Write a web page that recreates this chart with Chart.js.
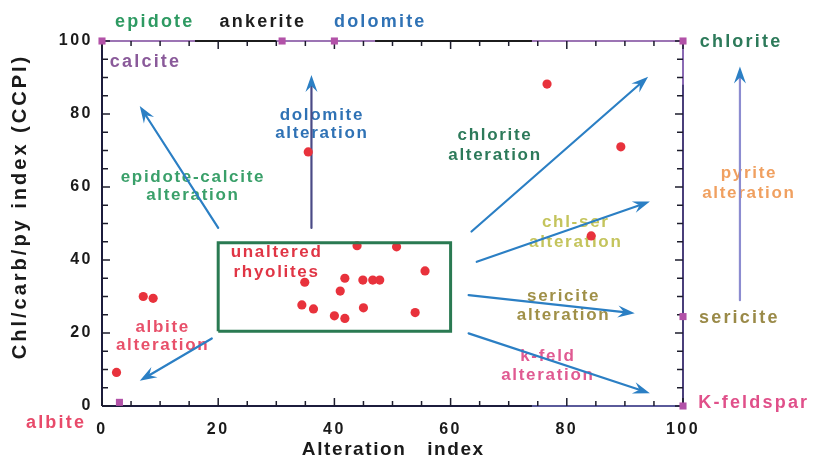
<!DOCTYPE html>
<html><head><meta charset="utf-8">
<script src="https://cdn.jsdelivr.net/npm/chart.js@4.4.1/dist/chart.umd.min.js"></script>
<style>html,body{margin:0;padding:0;background:#fff;}#wrap{width:815px;height:467px;}</style>
</head><body><div id="wrap"><canvas id="c" width="815" height="467"></canvas></div>
<script>
// ---- data ----
const sampleX = [76.6, 89.3, 35.5, 84.2, 43.9, 50.7, 55.6, 34.9, 41.8, 41.0, 44.9, 46.6, 47.8, 34.4, 36.4, 40.0, 41.8, 45.0, 53.9, 7.1, 8.8, 2.5];
const sampleY = [88.2, 71.0, 69.6, 46.6, 43.9, 43.6, 37.0, 33.9, 35.0, 31.5, 34.5, 34.5, 34.5, 27.7, 26.6, 24.7, 24.0, 26.9, 25.6, 30.0, 29.5, 9.2];
const endmemberX = [0, 31, 40, 100, 100, 100, 3];
const endmemberY = [100, 100, 100, 100, 24.5, 0, 1];
const boxX = [20, 60, 60, 20, 20];
const boxY = [20.5, 20.5, 44.7, 44.7, 20.5];
// arrows: start -> end (data units)
const arrowX0 = [20.0, 36.05, 63.6, 64.5, 63.1, 63.1, 18.9, 109.8];
const arrowY0 = [48.8, 48.8, 47.8, 39.5, 30.4, 19.9, 18.5, 29.0];
const arrowX1 = [6.5, 36.05, 94.0, 94.3, 91.7, 94.3, 6.5, 109.8];
const arrowY1 = [82.2, 90.7, 90.2, 56.0, 25.4, 3.5, 6.9, 93.0];
const arrowShaft = ['#2b7fc4', '#4a4a86', '#2b7fc4', '#2b7fc4', '#2b7fc4', '#2b7fc4', '#2b7fc4', '#8c8cd0'];
// labels (center x, line y's in data units)
const labelText = [['epidote'], ['ankerite'], ['dolomite'], ['calcite'], ['chlorite'], ['sericite'], ['K-feldspar'], ['albite'],
  ['dolomite', 'alteration'], ['epidote-calcite', 'alteration'], ['chlorite', 'alteration'], ['pyrite', 'alteration'],
  ['chl-ser', 'alteration'], ['unaltered', 'rhyolites'], ['sericite', 'alteration'], ['k-feld', 'alteration'], ['albite', 'alteration']];
const labelX = [8.9, 27.5, 47.7, 7.3, 109.8, 109.5, 112.0, -8.1, 37.7, 15.5, 67.5, 111.2, 81.4, 29.9, 79.3, 76.6, 10.3];
const labelY = [[105.2], [105.2], [105.2], [94.3], [99.7], [24.1], [0.8], [-4.7], [79.7, 74.8], [62.7, 57.8], [74.2, 68.8], [63.8, 58.4],
  [50.4, 44.9], [42.2, 36.7], [30.1, 24.9], [13.7, 8.5], [21.6, 16.7]];
const labelColor = ['#2e9a62', '#1e1e1e', '#2f72b5', '#8a5a9a', '#2d7a5a', '#9a8a48', '#e0508a', '#e84a6a',
  '#2f72b5', '#3aa06a', '#2d7a5a', '#f0a060', '#c4c45c', '#e03545', '#a09048', '#e05a92', '#e8506a'];
const labelSize = [18, 18, 18, 18, 18, 18, 18, 18, 17, 17, 17, 17, 17, 17, 17, 17, 17];
const xTickStep = 20, yTickStep = 20, minorStep = 5;

const FONT = "'Liberation Sans', Arial, Helvetica, sans-serif";
function drawText(ctx, s, x, y, size, color, spacing, rot) {
  ctx.save();
  ctx.font = 'bold ' + size + 'px ' + FONT;
  ctx.fillStyle = color;
  ctx.textAlign = 'left';
  ctx.textBaseline = 'middle';
  try { ctx.letterSpacing = spacing + 'px'; } catch (e) {}
  const w = ctx.measureText(s).width - spacing;
  ctx.translate(x, y);
  if (rot) ctx.rotate(rot);
  ctx.fillText(s, -w / 2, 0);
  ctx.restore();
}
function drawArrow(ctx, x0, y0, x1, y1, shaft, head) {
  const a = Math.atan2(y1 - y0, x1 - x0), c = Math.cos(a), s = Math.sin(a);
  const L = 17, W = 6, N = 11;
  ctx.save();
  ctx.strokeStyle = shaft; ctx.lineWidth = 2.2; ctx.lineCap = 'round';
  ctx.beginPath(); ctx.moveTo(x0, y0); ctx.lineTo(x1 - c * N, y1 - s * N); ctx.stroke();
  ctx.fillStyle = head;
  const bx = x1 - c * L, by = y1 - s * L, nx = -s, ny = c;
  ctx.beginPath();
  ctx.moveTo(x1, y1);
  ctx.lineTo(bx + nx * W, by + ny * W);
  ctx.lineTo(x1 - c * N, y1 - s * N);
  ctx.lineTo(bx - nx * W, by - ny * W);
  ctx.closePath(); ctx.fill();
  ctx.restore();
}

const decor = {
  id: 'decor',
  beforeDraw(chart) { try { chart.ctx.letterSpacing = '2.5px'; } catch (e) {} },
  beforeDatasetsDraw(chart) {
    const ctx = chart.ctx, xs = chart.scales.x, ys = chart.scales.y;
    const X = v => xs.getPixelForValue(v), Y = v => ys.getPixelForValue(v);
    // labels
    for (let i = 0; i < labelText.length; i++) {
      labelText[i].forEach((t, j) => drawText(ctx, t, X(labelX[i]), Y(labelY[i][j]), labelSize[i], labelColor[i], labelSize[i] > 17 ? 2.2 : 1.7));
    }
    // axis titles
    drawText(ctx, 'Alteration   index', (chart.chartArea.left + chart.chartArea.right) / 2, 450, 19, '#1a1a1a', 1.6);
    drawText(ctx, 'Chl/carb/py index (CCPI)', 20, 208, 20, '#1a1a1a', 3, -Math.PI / 2);
    // frame
    ctx.save();
    ctx.lineWidth = 2;
    const seg = (xa, ya, xb, yb, col) => { ctx.strokeStyle = col; ctx.beginPath(); ctx.moveTo(X(xa), Y(ya)); ctx.lineTo(X(xb), Y(yb)); ctx.stroke(); };
    seg(0, 0, 0, 100, '#1c1c3c');
    seg(0, 0, 100, 0, '#1c1c3c');
    seg(0, 100, 100, 100, '#1c1c1c');
    seg(100, 0, 100, 100, '#4a3f7a');
    seg(0, 100, 16, 100, '#9c74b4');
    seg(30, 100, 47, 100, '#9c74b4');
    seg(74, 100, 100, 100, '#9c74b4');
    seg(74, 0, 100, 0, '#5a5a9a');
    seg(100, 88, 100, 100, '#8a6ab4');
    // ticks (inward)
    ctx.strokeStyle = '#1c1c2c'; ctx.lineWidth = 1.5;
    for (let v = 0; v <= 100; v += minorStep) {
      const len = v % xTickStep === 0 ? 8 : 5;
      ctx.beginPath(); ctx.moveTo(X(v), Y(0)); ctx.lineTo(X(v), Y(0) - len); ctx.stroke();
      ctx.beginPath(); ctx.moveTo(X(v), Y(100)); ctx.lineTo(X(v), Y(100) + len); ctx.stroke();
      const ly = v % yTickStep === 0 ? 8 : 6;
      ctx.beginPath(); ctx.moveTo(X(0), Y(v)); ctx.lineTo(X(0) + ly, Y(v)); ctx.stroke();
      ctx.beginPath(); ctx.moveTo(X(100), Y(v)); ctx.lineTo(X(100) - ly, Y(v)); ctx.stroke();
    }
    ctx.restore();
    // arrows
    for (let i = 0; i < arrowX0.length; i++) {
      drawArrow(ctx, X(arrowX0[i]), Y(arrowY0[i]), X(arrowX1[i]), Y(arrowY1[i]), arrowShaft[i], '#2b7fc4');
    }
  }
};

new Chart(document.getElementById('c'), {
  type: 'scatter',
  data: {
    datasets: [
      { data: boxX.map((x, i) => ({ x, y: boxY[i] })), showLine: true, borderColor: '#2a7a52', borderWidth: 3, pointRadius: 0, fill: false, clip: false },
      { data: sampleX.map((x, i) => ({ x, y: sampleY[i] })), backgroundColor: '#e8323c', borderColor: '#e8323c', borderWidth: 0, pointRadius: 4.6, clip: false },
      { data: endmemberX.map((x, i) => ({ x, y: endmemberY[i] })), pointStyle: 'rect', backgroundColor: '#b252a8', borderColor: '#b252a8', borderWidth: 0, pointRadius: 5, clip: false }
    ]
  },
  options: {
    responsive: false, animation: false, devicePixelRatio: 1,
    layout: { padding: { left: 0, right: 132, top: 41, bottom: 0 } },
    plugins: { legend: { display: false }, tooltip: { enabled: false } },
    scales: {
      x: {
        type: 'linear', min: 0, max: 100,
        grid: { display: false, drawTicks: false }, border: { display: false },
        ticks: { stepSize: xTickStep, padding: 14, color: '#1a1a1a', font: { family: FONT, size: 16, weight: 'bold' }, maxRotation: 0 },
        afterFit(s) { s.height = 61; }
      },
      y: {
        type: 'linear', min: 0, max: 100,
        grid: { display: false, drawTicks: false }, border: { display: false },
        ticks: { stepSize: yTickStep, padding: 9, color: '#1a1a1a', font: { family: FONT, size: 16, weight: 'bold' } },
        afterFit(s) { s.width = 102; }
      }
    }
  },
  plugins: [decor]
});
</script></body></html>
